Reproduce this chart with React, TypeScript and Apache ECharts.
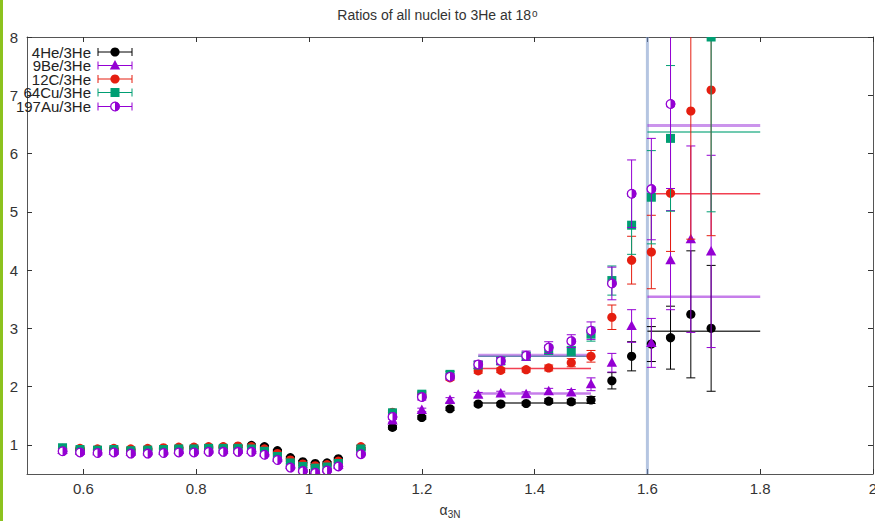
import React, { useEffect, useRef } from "react";
import * as echarts from "echarts";

const FONT = '"Liberation Sans", Arial, Helvetica, sans-serif';

// alpha_3N bin centres
const X = [0.563, 0.594, 0.625, 0.654, 0.684, 0.714, 0.742, 0.769, 0.796, 0.822, 0.848, 0.874, 0.898, 0.921, 0.944, 0.967, 0.989, 1.011, 1.032, 1.052, 1.092,
  1.148, 1.2, 1.25, 1.3, 1.34, 1.385, 1.425, 1.465, 1.5, 1.537, 1.572, 1.607, 1.641, 1.677, 1.713];

const He4 = [0.93, 0.92, 0.91, 0.92, 0.91, 0.92, 0.93, 0.94, 0.95, 0.95, 0.96, 0.97, 0.99, 0.97, 0.90, 0.78, 0.71, 0.68, 0.69, 0.76, 0.93,
  1.30, 1.47, 1.62, 1.70, 1.70, 1.71, 1.75, 1.74, 1.77, 2.10, 2.52, 2.73, 2.84, 3.24, 3.00];
const He4Err = [0.02, 0.02, 0.02, 0.02, 0.02, 0.02, 0.02, 0.02, 0.02, 0.02, 0.02, 0.02, 0.02, 0.02, 0.02, 0.02, 0.02, 0.02, 0.02, 0.02, 0.02,
  0.03, 0.03, 0.03, 0.03, 0.03, 0.03, 0.04, 0.04, 0.06, 0.14, 0.25, 0.3, 0.54, 1.09, 1.08];

const Be9 = [0.91, 0.90, 0.89, 0.90, 0.88, 0.89, 0.90, 0.91, 0.91, 0.92, 0.92, 0.92, 0.91, 0.87, 0.78, 0.66, 0.60, 0.57, 0.60, 0.66, 0.90,
  1.42, 1.60, 1.77, 1.86, 1.88, 1.87, 1.92, 1.90, 2.04, 2.41, 3.04, 2.75, 4.17, 4.53, 4.32];
const Be9Err = [0.02, 0.02, 0.02, 0.02, 0.02, 0.02, 0.02, 0.02, 0.02, 0.02, 0.02, 0.02, 0.02, 0.02, 0.02, 0.02, 0.02, 0.02, 0.02, 0.02, 0.02,
  0.03, 0.03, 0.04, 0.04, 0.04, 0.04, 0.05, 0.05, 0.11, 0.16, 0.28, 0.42, 0.85, 1.6, 1.65];

const C12 = [0.94, 0.94, 0.93, 0.94, 0.93, 0.94, 0.95, 0.96, 0.96, 0.97, 0.97, 0.98, 0.97, 0.93, 0.85, 0.74, 0.67, 0.64, 0.66, 0.72, 0.97,
  1.56, 1.86, 2.15, 2.27, 2.28, 2.29, 2.32, 2.41, 2.52, 3.19, 4.17, 4.31, 5.32, 6.73, 7.09];
const C12Err = [0.02, 0.02, 0.02, 0.02, 0.02, 0.02, 0.02, 0.02, 0.02, 0.02, 0.02, 0.02, 0.02, 0.02, 0.02, 0.02, 0.02, 0.02, 0.02, 0.02, 0.02,
  0.03, 0.04, 0.04, 0.04, 0.04, 0.04, 0.05, 0.07, 0.1, 0.21, 0.41, 0.63, 1.0, 2.2, 2.5];

const Cu64 = [0.95, 0.92, 0.91, 0.92, 0.90, 0.91, 0.92, 0.93, 0.93, 0.94, 0.94, 0.94, 0.93, 0.89, 0.80, 0.69, 0.63, 0.60, 0.62, 0.68, 0.93,
  1.55, 1.87, 2.21, 2.37, 2.44, 2.52, 2.63, 2.61, 2.90, 3.82, 4.77, 5.25, 6.26, null, 8.0];
const Cu64Err = [0.02, 0.02, 0.02, 0.02, 0.02, 0.02, 0.02, 0.02, 0.02, 0.02, 0.02, 0.02, 0.02, 0.02, 0.02, 0.02, 0.02, 0.02, 0.02, 0.02, 0.02,
  0.04, 0.05, 0.05, 0.06, 0.06, 0.07, 0.08, 0.08, 0.12, 0.25, 0.5, 0.8, 1.25, null, 3.0];

const Au197 = [0.89, 0.87, 0.86, 0.87, 0.85, 0.85, 0.86, 0.87, 0.87, 0.88, 0.88, 0.88, 0.88, 0.83, 0.74, 0.61, 0.55, 0.52, 0.56, 0.63, 0.84,
  1.48, 1.82, 2.17, 2.38, 2.44, 2.53, 2.67, 2.78, 2.96, 3.77, 5.31, 5.39, 6.85, null, null];
const Au197Err = [0.02, 0.02, 0.02, 0.02, 0.02, 0.02, 0.02, 0.02, 0.02, 0.02, 0.02, 0.02, 0.02, 0.02, 0.02, 0.02, 0.02, 0.02, 0.02, 0.02, 0.02,
  0.04, 0.05, 0.05, 0.06, 0.06, 0.08, 0.1, 0.11, 0.15, 0.28, 0.58, 0.87, 1.45, null, null];

// constant fits
const FIT_LOW_RANGE = [1.3, 1.5];
const FIT_HIGH_RANGE = [1.6, 1.8];
const FitLow = { He4: 1.72, Be9: 1.88, C12: 2.31, Cu64: 2.52, Au197: 2.54 };
const FitHigh = { He4: 2.95, Be9: 3.54, C12: 5.31, Cu64: 6.37, Au197: 6.48 };
const CUT_X = 1.6;

const X_TICKS = [0.6, 0.8, 1, 1.2, 1.4, 1.6, 1.8, 2];
const Y_TICKS = [1, 2, 3, 4, 5, 6, 7, 8];

const SERIES = [
  { key: "He4", name: "4He/3He", color: "#000000", marker: "circle", y: He4, e: He4Err, fitColor: "rgba(40,40,40,0.9)", fitW: 1.5 },
  { key: "Be9", name: "9Be/3He", color: "#9400d3", marker: "triangle", y: Be9, e: Be9Err, fitColor: "rgba(160,40,220,0.6)", fitW: 2.5 },
  { key: "C12", name: "12C/3He", color: "#e51e10", marker: "circle", y: C12, e: C12Err, fitColor: "rgba(240,30,50,0.85)", fitW: 1.5 },
  { key: "Cu64", name: "64Cu/3He", color: "#009e73", marker: "square", y: Cu64, e: Cu64Err, fitColor: "rgba(0,160,115,0.75)", fitW: 1.5 },
  { key: "Au197", name: "197Au/3He", color: "#9400d3", marker: "half", y: Au197, e: Au197Err, fitColor: "rgba(160,60,220,0.55)", fitW: 3 },
];

function markerEls(kind: string, cx: number, cy: number, color: string): any[] {
  if (kind === "circle") return [{ type: "circle", shape: { cx, cy, r: 4.6 }, style: { fill: color } }];
  if (kind === "square") return [{ type: "rect", shape: { x: cx - 4.5, y: cy - 4.5, width: 9, height: 9 }, style: { fill: color } }];
  if (kind === "triangle")
    return [{ type: "polygon", shape: { points: [[cx, cy - 5.5], [cx - 5.2, cy + 4], [cx + 5.2, cy + 4]] }, style: { fill: color } }];
  return [
    { type: "circle", shape: { cx, cy, r: 4.3 }, style: { fill: "#fff", stroke: color, lineWidth: 1.3 } },
    { type: "sector", shape: { cx, cy, r: 4.8, r0: 0, startAngle: -Math.PI / 2, endAngle: Math.PI / 2, clockwise: true }, style: { fill: color } },
  ];
}

function errorBarEls(cx: number, yTop: number, yBot: number, color: string): any[] {
  const s = { stroke: color, lineWidth: 1 };
  return [
    { type: "line", shape: { x1: cx, y1: yTop, x2: cx, y2: yBot }, style: s },
    { type: "line", shape: { x1: cx - 4.5, y1: yTop, x2: cx + 4.5, y2: yTop }, style: s },
    { type: "line", shape: { x1: cx - 4.5, y1: yBot, x2: cx + 4.5, y2: yBot }, style: s },
  ];
}

export default function App() {
  const ref = useRef<HTMLDivElement>(null);
  useEffect(() => {
    if (!ref.current) return;
    const chart = echarts.init(ref.current, null, { renderer: "svg" });

    const dataSeries = SERIES.map((s, si) => ({
      type: "custom",
      name: s.name,
      clip: true,
      z: 3 + si,
      data: X.map((x, i) => (s.y[i] == null ? null : [x, s.y[i], s.e[i]])).filter((d) => d != null),
      encode: { x: 0, y: 1 },
      renderItem: (params: any, api: any) => {
        const x = api.value(0);
        const y = api.value(1);
        const e = api.value(2);
        const c = api.coord([x, y]);
        const t = api.coord([x, y + e]);
        const b = api.coord([x, y - e]);
        return {
          type: "group",
          children: [...errorBarEls(c[0], t[1], b[1], s.color), ...markerEls(s.marker, c[0], c[1], s.color)],
        };
      },
    }));

    const fitSeries: any[] = [];
    SERIES.forEach((s) => {
      const lo = (FitLow as any)[s.key];
      const hi = (FitHigh as any)[s.key];
      fitSeries.push({
        type: "line", name: s.name + " fit low", showSymbol: false, silent: true, z: 2,
        lineStyle: { color: s.fitColor, width: s.fitW },
        data: [[FIT_LOW_RANGE[0], lo], [FIT_LOW_RANGE[1], lo]],
      });
      fitSeries.push({
        type: "line", name: s.name + " fit high", showSymbol: false, silent: true, z: 2,
        lineStyle: { color: s.fitColor, width: s.fitW },
        data: [[FIT_HIGH_RANGE[0], hi], [FIT_HIGH_RANGE[1], hi]],
      });
    });
    fitSeries.push({
      type: "line", name: "cut", showSymbol: false, silent: true, z: 1,
      lineStyle: { color: "rgba(120,150,200,0.55)", width: 3 },
      data: [[CUT_X, 0.5], [CUT_X, 8]],
    });

    const legendEls: any[] = [];
    const rowsY = [52, 65.5, 79, 92.5, 106.5];
    SERIES.forEach((s, i) => {
      const yc = rowsY[i];
      legendEls.push({
        type: "text", x: 91, y: yc, z: 100,
        style: { text: s.name, align: "right", verticalAlign: "middle", font: `15px ${FONT}`, fill: "#222" },
      });
      legendEls.push({ type: "line", z: 100, shape: { x1: 98, y1: yc, x2: 132, y2: yc }, style: { stroke: s.color, lineWidth: 1 } });
      legendEls.push({ type: "line", z: 100, shape: { x1: 98, y1: yc - 4, x2: 98, y2: yc + 4 }, style: { stroke: s.color, lineWidth: 1 } });
      legendEls.push({ type: "line", z: 100, shape: { x1: 132, y1: yc - 4, x2: 132, y2: yc + 4 }, style: { stroke: s.color, lineWidth: 1 } });
      markerEls(s.marker, 115, yc, s.color).forEach((m) => legendEls.push({ ...m, z: 101 }));
    });

    const axisLineStyle = { color: "#555", width: 1 };
    const option: any = {
      animation: false,
      backgroundColor: "#fff",
      title: {
        text: "Ratios of all nuclei to 3He at 18{s|o}",
        left: "center",
        top: 3,
        textStyle: {
          fontFamily: FONT, fontSize: 14, fontWeight: "normal", color: "#333",
          rich: { s: { fontFamily: FONT, fontSize: 10, color: "#333", verticalAlign: "top", lineHeight: 10, padding: [0, 0, 6, 1] } },
        },
      },
      grid: { left: 27, right: 2, top: 37, bottom: 47, outerBoundsMode: "none", containLabel: false },
      xAxis: [
        {
          type: "value", min: 0.5, max: 2, position: "bottom",
          axisLine: { show: true, lineStyle: axisLineStyle },
          axisTick: { show: true, inside: true, length: 5, customValues: X_TICKS, lineStyle: { color: "#333" } },
          axisLabel: { customValues: X_TICKS, margin: 7, fontFamily: FONT, fontSize: 15, color: "#333" },
          splitLine: { show: false },
          name: "{a|α}{b|3N}",
          nameLocation: "middle",
          nameGap: 27,
          nameTextStyle: {
            rich: {
              a: { fontFamily: FONT, fontSize: 14, color: "#333" },
              b: { fontFamily: FONT, fontSize: 10, color: "#333", padding: [8, 0, 0, 0] },
            },
          },
        },
        {
          type: "value", min: 0.5, max: 2, position: "top",
          axisLine: { show: true, lineStyle: axisLineStyle },
          axisTick: { show: true, inside: true, length: 5, customValues: X_TICKS, lineStyle: { color: "#333" } },
          axisLabel: { show: false },
          splitLine: { show: false },
        },
      ],
      yAxis: [
        {
          type: "value", min: 0.5, max: 8, position: "left",
          axisLine: { show: true, lineStyle: axisLineStyle },
          axisTick: { show: true, inside: true, length: 5, customValues: Y_TICKS, lineStyle: { color: "#333" } },
          axisLabel: { customValues: Y_TICKS, margin: 9, fontFamily: FONT, fontSize: 15, color: "#333" },
          splitLine: { show: false },
        },
        {
          type: "value", min: 0.5, max: 8, position: "right",
          axisLine: { show: true, lineStyle: axisLineStyle },
          axisTick: { show: true, inside: true, length: 5, customValues: Y_TICKS, lineStyle: { color: "#333" } },
          axisLabel: { show: false },
          splitLine: { show: false },
        },
      ],
      graphic: [
        { type: "rect", shape: { x: 0, y: 0, width: 3, height: 521 }, style: { fill: "#8cc21e" }, z: 100 },
        ...legendEls,
      ],
      series: [...fitSeries, ...dataSeries],
    };
    chart.setOption(option);
    return () => chart.dispose();
  }, []);
  return <div ref={ref} style={{ position: "absolute", left: 0, top: 0, width: 875, height: 521 }} />;
}
